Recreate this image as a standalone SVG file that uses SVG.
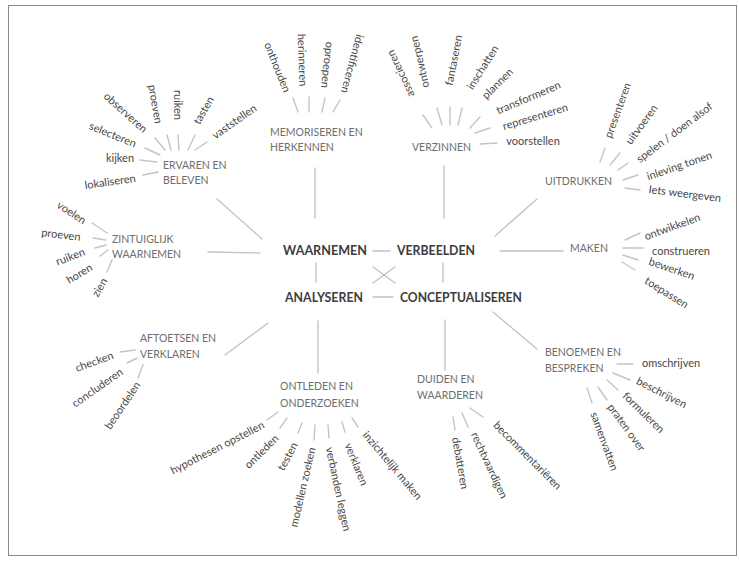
<svg xmlns="http://www.w3.org/2000/svg" width="739" height="561" viewBox="0 0 739 561">
<style>
text{font-family:Lato,"Open Sans","Liberation Sans",sans-serif}
.core{font-size:13px;font-weight:bold;fill:#3c3c3c}
.hub{font-size:10.5px;fill:#6e6e6e}
.leaf{font-size:11px;fill:#474747;text-anchor:middle;dominant-baseline:central}
#connectors line{stroke:#c4c4c4;stroke-width:1.4;stroke-linecap:round}
</style>
<rect x="0" y="0" width="739" height="561" fill="#fff"/>
<rect x="8.5" y="5.5" width="728" height="550" fill="none" stroke="#8a8a8a" stroke-width="1"/>
<g id="connectors">
<!-- core -->
<line x1="373" y1="251" x2="390" y2="251"/>
<line x1="373" y1="297" x2="393" y2="297"/>
<line x1="316" y1="263" x2="316" y2="282"/>
<line x1="443" y1="263" x2="443" y2="282"/>
<line x1="373" y1="267" x2="395" y2="283"/>
<line x1="373" y1="283" x2="395" y2="267"/>
<!-- hub connectors -->
<line x1="217" y1="199" x2="262" y2="239"/>
<line x1="315" y1="168" x2="315" y2="218"/>
<line x1="444" y1="166" x2="444" y2="218"/>
<line x1="537" y1="199" x2="495" y2="236"/>
<line x1="500" y1="251" x2="563" y2="251"/>
<line x1="208" y1="252" x2="260" y2="253"/>
<line x1="225" y1="355" x2="268" y2="323"/>
<line x1="318" y1="321" x2="318" y2="373"/>
<line x1="445" y1="320" x2="445" y2="370"/>
<line x1="493" y1="312" x2="537" y2="349"/>
<!-- ervaren spokes -->
<line x1="143" y1="175" x2="158" y2="172"/>
<line x1="140" y1="160" x2="157" y2="162"/>
<line x1="145" y1="148" x2="160" y2="155"/>
<line x1="155" y1="138" x2="165" y2="150"/>
<line x1="167" y1="135" x2="171" y2="150"/>
<line x1="178" y1="135" x2="179" y2="150"/>
<line x1="195" y1="135" x2="188" y2="150"/>
<line x1="207" y1="142" x2="195" y2="150"/>
<!-- memoriseren spokes -->
<line x1="293" y1="98" x2="298" y2="112"/>
<line x1="309" y1="97" x2="309" y2="112"/>
<line x1="325" y1="98" x2="322" y2="112"/>
<line x1="340" y1="100" x2="333" y2="112"/>
<!-- verzinnen spokes -->
<line x1="423" y1="115" x2="432" y2="128"/>
<line x1="437" y1="108" x2="442" y2="125"/>
<line x1="450" y1="107" x2="450" y2="125"/>
<line x1="462" y1="108" x2="458" y2="125"/>
<line x1="480" y1="117" x2="470" y2="128"/>
<line x1="490" y1="128" x2="475" y2="133"/>
<line x1="497" y1="143" x2="480" y2="144"/>
<!-- uitdrukken spokes -->
<line x1="605" y1="148" x2="600" y2="162"/>
<line x1="620" y1="153" x2="610" y2="165"/>
<line x1="628" y1="163" x2="618" y2="170"/>
<line x1="638" y1="175" x2="623" y2="180"/>
<line x1="640" y1="190" x2="625" y2="188"/>
<!-- maken spokes -->
<line x1="625" y1="240" x2="640" y2="233"/>
<line x1="623" y1="248" x2="643" y2="248"/>
<line x1="623" y1="255" x2="638" y2="260"/>
<line x1="622" y1="262" x2="635" y2="270"/>
<!-- zintuiglijk spokes -->
<line x1="92" y1="223" x2="107" y2="233"/>
<line x1="93" y1="238" x2="106" y2="240"/>
<line x1="95" y1="248" x2="106" y2="245"/>
<line x1="100" y1="256" x2="108" y2="250"/>
<line x1="107" y1="272" x2="112" y2="260"/>
<!-- aftoetsen spokes -->
<line x1="120" y1="352" x2="135" y2="350"/>
<line x1="127" y1="363" x2="137" y2="358"/>
<line x1="138" y1="378" x2="143" y2="365"/>
<!-- ontleden spokes -->
<line x1="278" y1="412" x2="267" y2="420"/>
<line x1="287" y1="418" x2="280" y2="428"/>
<line x1="302" y1="423" x2="298" y2="433"/>
<line x1="315" y1="425" x2="314" y2="440"/>
<line x1="328" y1="425" x2="329" y2="438"/>
<line x1="342" y1="422" x2="345" y2="432"/>
<line x1="352" y1="418" x2="358" y2="427"/>
<!-- duiden spokes -->
<line x1="453" y1="417" x2="455" y2="430"/>
<line x1="462" y1="413" x2="468" y2="427"/>
<line x1="470" y1="408" x2="483" y2="417"/>
<!-- benoemen spokes -->
<line x1="617" y1="364" x2="633" y2="364"/>
<line x1="613" y1="373" x2="630" y2="380"/>
<line x1="607" y1="380" x2="618" y2="390"/>
<line x1="598" y1="387" x2="607" y2="400"/>
<line x1="587" y1="388" x2="592" y2="403"/>
</g>

<g id="waarnemen"><text class="core" x="283" y="255" textLength="84" lengthAdjust="spacingAndGlyphs">WAARNEMEN</text></g>
<g id="verbeelden"><text class="core" x="397" y="255" textLength="78" lengthAdjust="spacingAndGlyphs">VERBEELDEN</text></g>
<g id="analyseren"><text class="core" x="285" y="302" textLength="78" lengthAdjust="spacingAndGlyphs">ANALYSEREN</text></g>
<g id="conceptualiseren"><text class="core" x="400" y="302" textLength="122" lengthAdjust="spacingAndGlyphs">CONCEPTUALISEREN</text></g>

<g id="ervaren-en-beleven">
<text class="hub" x="163" y="169">ERVAREN EN</text>
<text class="hub" x="163" y="184">BELEVEN</text>
<text class="leaf" transform="translate(110,181) rotate(-8)">lokaliseren</text>
<text class="leaf" transform="translate(120,157)">kijken</text>
<text class="leaf" transform="translate(113,134) rotate(22)">selecteren</text>
<text class="leaf" transform="translate(126,112) rotate(42)">observeren</text>
<text class="leaf" transform="translate(156,104) rotate(80)">proeven</text>
<text class="leaf" transform="translate(178,105) rotate(90)">ruiken</text>
<text class="leaf" transform="translate(203,110) rotate(-60)">tasten</text>
<text class="leaf" transform="translate(234,121) rotate(-35)">vaststellen</text>
</g>

<g id="memoriseren-en-herkennen">
<text class="hub" x="270" y="136">MEMORISEREN EN</text>
<text class="hub" x="270" y="151">HERKENNEN</text>
<text class="leaf" transform="translate(278,67) rotate(68)">onthouden</text>
<text class="leaf" transform="translate(303,60) rotate(88)">herinneren</text>
<text class="leaf" transform="translate(328,65) rotate(96)">oproepen</text>
<text class="leaf" transform="translate(353,64) rotate(105)">identificeren</text>
</g>

<g id="verzinnen">
<text class="hub" x="412" y="151">VERZINNEN</text>
<text class="leaf" transform="translate(400,74) rotate(-115)">associeren</text>
<text class="leaf" transform="translate(419,62) rotate(-103)">ontwerpen</text>
<text class="leaf" transform="translate(453,60) rotate(-79)">fantaseren</text>
<text class="leaf" transform="translate(482,67) rotate(-58)">inschatten</text>
<text class="leaf" transform="translate(497,83) rotate(-45)">plannen</text>
<text class="leaf" transform="translate(528,97) rotate(-23)">transformeren</text>
<text class="leaf" transform="translate(535,116) rotate(-17)">representeren</text>
<text class="leaf" transform="translate(533,140)">voorstellen</text>
</g>

<g id="uitdrukken">
<text class="hub" x="545" y="185">UITDRUKKEN</text>
<text class="leaf" transform="translate(617,110) rotate(-70)">presenteren</text>
<text class="leaf" transform="translate(641,124) rotate(-54)">uitvoeren</text>
<text class="leaf" transform="translate(674,132) rotate(-37)">spelen / doen alsof</text>
<text class="leaf" transform="translate(679,165) rotate(-19)">inleving tonen</text>
<text class="leaf" transform="translate(685,193) rotate(7)">Iets weergeven</text>
</g>

<g id="maken">
<text class="hub" x="570" y="252">MAKEN</text>
<text class="leaf" transform="translate(672,226) rotate(-20)">ontwikkelen</text>
<text class="leaf" transform="translate(681,250)">construeren</text>
<text class="leaf" transform="translate(672,268) rotate(19)">bewerken</text>
<text class="leaf" transform="translate(667,292) rotate(32)">toepassen</text>
</g>

<g id="zintuiglijk-waarnemen">
<text class="hub" x="112" y="243">ZINTUIGLIJK</text>
<text class="hub" x="112" y="258">WAARNEMEN</text>
<text class="leaf" transform="translate(72,212) rotate(33)">voelen</text>
<text class="leaf" transform="translate(61,234) rotate(7)">proeven</text>
<text class="leaf" transform="translate(70,256) rotate(-21)">ruiken</text>
<text class="leaf" transform="translate(79,273) rotate(-31)">horen</text>
<text class="leaf" transform="translate(99,287) rotate(-60)">zien</text>
</g>

<g id="aftoetsen-en-verklaren">
<text class="hub" x="140" y="342">AFTOETSEN EN</text>
<text class="hub" x="140" y="358">VERKLAREN</text>
<text class="leaf" transform="translate(94,361) rotate(-20)">checken</text>
<text class="leaf" transform="translate(97,387) rotate(-35)">concluderen</text>
<text class="leaf" transform="translate(122,405) rotate(-56)">beoordelen</text>
</g>

<g id="ontleden-en-onderzoeken">
<text class="hub" x="280" y="390">ONTLEDEN EN</text>
<text class="hub" x="280" y="407">ONDERZOEKEN</text>
<text class="leaf" transform="translate(217,447) rotate(-27)">hypothesen  opstellen</text>
<text class="leaf" transform="translate(261,451) rotate(-45)">ontleden</text>
<text class="leaf" transform="translate(287,456) rotate(-62)">testen</text>
<text class="leaf" transform="translate(302,487) rotate(-77)">modellen zoeken</text>
<text class="leaf" transform="translate(339,489) rotate(78)">verbanden leggen</text>
<text class="leaf" transform="translate(357,464) rotate(68)">verklaren</text>
<text class="leaf" transform="translate(393,465) rotate(50)">inzichtelijk maken</text>
</g>

<g id="duiden-en-waarderen">
<text class="hub" x="417" y="383">DUIDEN EN</text>
<text class="hub" x="417" y="399">WAARDEREN</text>
<text class="leaf" transform="translate(461,463) rotate(80)">debatteren</text>
<text class="leaf" transform="translate(490,465) rotate(65)">rechtvaardigen</text>
<text class="leaf" transform="translate(528,455) rotate(45)">becommentariëren</text>
</g>

<g id="benoemen-en-bespreken">
<text class="hub" x="545" y="356">BENOEMEN EN</text>
<text class="hub" x="545" y="372">BESPREKEN</text>
<text class="leaf" transform="translate(671,362)">omschrijven</text>
<text class="leaf" transform="translate(662,392) rotate(27)">beschrijven</text>
<text class="leaf" transform="translate(644,412) rotate(44)">formuleren</text>
<text class="leaf" transform="translate(627,427) rotate(54)">praten over</text>
<text class="leaf" transform="translate(605,441) rotate(70)">samenvatten</text>
</g>
</svg>
